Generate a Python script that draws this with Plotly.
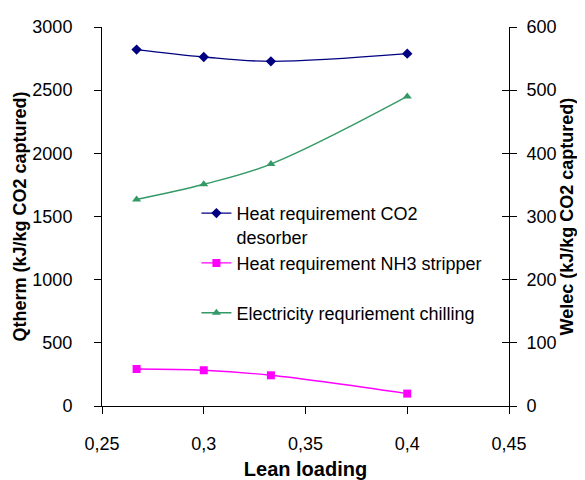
import plotly.graph_objects as go

lean_loading = [0.267, 0.3, 0.333, 0.4]
heat_desorber = [2821, 2763, 2728, 2789]
heat_nh3_stripper = [293, 283, 243, 98]
elec_chilling = [327, 351, 383, 490]

font_family = "Liberation Sans, Arial, sans-serif"

fig = go.Figure()
fig.add_trace(go.Scatter(
    x=lean_loading, y=heat_desorber, mode="lines+markers",
    name="Heat requirement CO2<br>desorber",
    line=dict(color="#000080", width=1.4, shape="spline"),
    marker=dict(symbol="diamond", size=8, color="#000080"),
))
fig.add_trace(go.Scatter(
    x=lean_loading, y=heat_nh3_stripper, mode="lines+markers",
    name="Heat requirement NH3 stripper<br> ",
    line=dict(color="#FF00FF", width=1.4, shape="spline"),
    marker=dict(symbol="square", size=8, color="#FF00FF"),
))
fig.add_trace(go.Scatter(
    x=lean_loading, y=elec_chilling, mode="lines+markers",
    name="Electricity requriement chilling",
    line=dict(color="#339966", width=1.4, shape="spline"),
    marker=dict(symbol="triangle-up", size=8, color="#339966"),
    yaxis="y2",
))
# empty helper trace so the cross-tick overlay axis is drawn
fig.add_trace(go.Scatter(x=[], y=[], yaxis="y3", showlegend=False, hoverinfo="skip"))

axis_common = dict(
    showgrid=False, zeroline=False, showline=True, linecolor="black", linewidth=1,
    ticks="outside", ticklen=7, tickcolor="black", automargin=False,
    tickfont=dict(family=font_family, size=18, color="black"),
)

fig.update_layout(
    width=577, height=472,
    margin=dict(l=94, r=76, t=19, b=74),
    paper_bgcolor="white", plot_bgcolor="white",
    font=dict(family=font_family, size=18, color="black"),
    showlegend=True,
    legend=dict(x=0.232, y=0.557, xanchor="left", yanchor="top", valign="top",
                bgcolor="rgba(0,0,0,0)", font=dict(size=18, family=font_family),
                tracegroupgap=0, itemwidth=30),
    xaxis=dict(range=[0.25, 0.45], tickvals=[0.25, 0.3, 0.35, 0.4, 0.45],
               ticktext=["0,25", "0,3", "0,35", "0,4", "0,45"],
               ticklabelstandoff=14,
               title=dict(text="<b>Lean loading</b>", standoff=13,
                          font=dict(size=20, family=font_family)),
               **axis_common),
    yaxis=dict(range=[0, 3000], tickvals=[0, 500, 1000, 1500, 2000, 2500, 3000],
               ticklabelstandoff=18,
               title=dict(text="<b>Qtherm (kJ/kg CO2 captured)</b>", standoff=1,
                          font=dict(size=18, family=font_family)),
               **axis_common),
    yaxis2=dict(range=[0, 600], tickvals=[0, 100, 200, 300, 400, 500, 600],
                overlaying="y", side="right", ticklabelstandoff=6,
                title=dict(text="<b>Welec (kJ/kg CO2 captured)</b>", standoff=4,
                           font=dict(size=18, family=font_family)),
                **axis_common),
    yaxis3=dict(range=[0, 600], tickvals=[0, 100, 200, 300, 400, 500, 600],
                overlaying="y", side="right", anchor="x", showgrid=False,
                zeroline=False, showline=False, ticks="inside", ticklen=7,
                tickcolor="black", showticklabels=False, automargin=False),
)

fig.write_html("out.html")
